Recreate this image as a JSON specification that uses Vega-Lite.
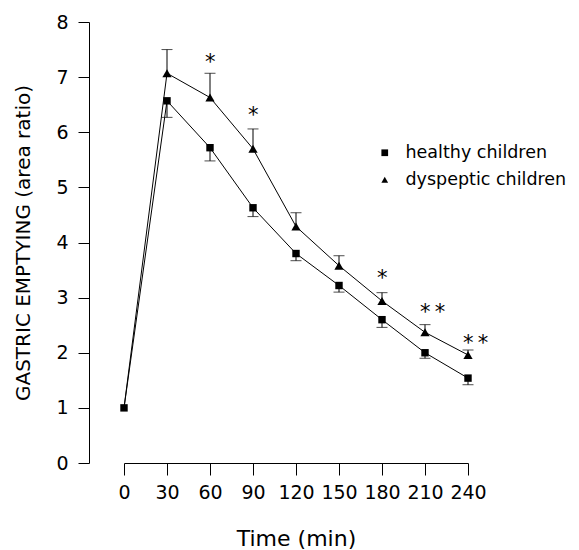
{
  "$schema": "https://vega.github.io/schema/vega-lite/v6.json",
  "autosize": "none",
  "width": 344,
  "height": 441,
  "padding": {"left": 124, "top": 22, "right": 111, "bottom": 87},
  "config": {
    "view": {"stroke": null},
    "font": "DejaVu Sans",
    "axis": {
      "domainColor": "black", "tickColor": "black", "labelColor": "black", "titleColor": "black",
      "grid": false, "labelFont": "DejaVu Sans", "titleFont": "DejaVu Sans",
      "labelFontWeight": "normal", "titleFontWeight": "normal", "domainWidth": 1, "tickWidth": 1
    }
  },
  "datasets": {
    "means": [
      {"group": "healthy children", "time": 0, "mean": 1.0, "err_end": null},
      {"group": "healthy children", "time": 30, "mean": 6.57, "err_end": 6.27},
      {"group": "healthy children", "time": 60, "mean": 5.72, "err_end": 5.48},
      {"group": "healthy children", "time": 90, "mean": 4.63, "err_end": 4.47},
      {"group": "healthy children", "time": 120, "mean": 3.80, "err_end": 3.67},
      {"group": "healthy children", "time": 150, "mean": 3.22, "err_end": 3.10},
      {"group": "healthy children", "time": 180, "mean": 2.60, "err_end": 2.46},
      {"group": "healthy children", "time": 210, "mean": 2.00, "err_end": 1.90},
      {"group": "healthy children", "time": 240, "mean": 1.54, "err_end": 1.42},
      {"group": "dyspeptic children", "time": 0, "mean": 1.0, "err_end": null},
      {"group": "dyspeptic children", "time": 30, "mean": 7.07, "err_end": 7.50},
      {"group": "dyspeptic children", "time": 60, "mean": 6.63, "err_end": 7.07},
      {"group": "dyspeptic children", "time": 90, "mean": 5.70, "err_end": 6.06},
      {"group": "dyspeptic children", "time": 120, "mean": 4.29, "err_end": 4.54},
      {"group": "dyspeptic children", "time": 150, "mean": 3.58, "err_end": 3.76},
      {"group": "dyspeptic children", "time": 180, "mean": 2.94, "err_end": 3.09},
      {"group": "dyspeptic children", "time": 210, "mean": 2.37, "err_end": 2.51},
      {"group": "dyspeptic children", "time": 240, "mean": 1.96, "err_end": 2.05}
    ],
    "signif": [
      {"time": 60, "y": 7.38, "label": "*"},
      {"time": 90, "y": 6.43, "label": "*"},
      {"time": 180, "y": 3.47, "label": "*"},
      {"time": 210, "y": 2.85, "label": "*\u2009*"},
      {"time": 240, "y": 2.28, "label": "*\u2009*"}
    ]
  },
  "layer": [
    {
      "data": {"name": "means"},
      "mark": {"type": "line", "color": "black", "strokeWidth": 1},
      "encoding": {
        "x": {
          "field": "time", "type": "quantitative",
          "scale": {"domain": [0, 240], "nice": false, "zero": false},
          "axis": {
            "values": [0, 30, 60, 90, 120, 150, 180, 210, 240], "format": "d",
            "title": "Time (min)", "titleFontSize": 22, "titlePadding": 26,
            "labelFontSize": 19, "labelPadding": 8, "tickSize": 12, "labelOverlap": false,
            "labelFlush": false
          }
        },
        "y": {
          "field": "mean", "type": "quantitative",
          "scale": {"domain": [0, 8], "nice": false},
          "axis": {
            "values": [0, 1, 2, 3, 4, 5, 6, 7, 8], "format": "d",
            "title": "GASTRIC EMPTYING (area ratio)", "titleFontSize": 20, "titlePadding": 22,
            "labelFontSize": 19, "labelPadding": 10, "tickSize": 11, "offset": 35,
            "labelFlush": false
          }
        },
        "detail": {"field": "group"}
      }
    },
    {
      "data": {"name": "means"},
      "transform": [{"filter": "datum.err_end != null"}],
      "mark": {"type": "rule", "color": "black", "strokeWidth": 1},
      "encoding": {
        "x": {"field": "time", "type": "quantitative"},
        "y": {"field": "mean", "type": "quantitative"},
        "y2": {"field": "err_end"}
      }
    },
    {
      "data": {"name": "means"},
      "transform": [{"filter": "datum.err_end != null"}],
      "mark": {"type": "tick", "orient": "horizontal", "color": "black", "thickness": 1, "size": 11},
      "encoding": {
        "x": {"field": "time", "type": "quantitative"},
        "y": {"field": "err_end", "type": "quantitative"}
      }
    },
    {
      "data": {"name": "means"},
      "transform": [{"filter": "datum.group == 'dyspeptic children' && datum.time > 0"}],
      "mark": {"type": "point", "filled": true, "opacity": 1, "color": "black", "size": 85},
      "encoding": {
        "x": {"field": "time", "type": "quantitative"},
        "y": {"field": "mean", "type": "quantitative"},
        "shape": {
          "field": "group", "type": "nominal",
          "scale": {"domain": ["healthy children", "dyspeptic children"], "range": ["square", "triangle-up"]},
          "legend": {
            "title": null, "orient": "none", "legendX": 252, "legendY": 122,
            "labelFontSize": 17.5, "labelFont": "DejaVu Sans", "labelColor": "black", "labelLimit": 300,
            "symbolSize": 45, "symbolFillColor": "black", "symbolStrokeColor": "black",
            "rowPadding": 8, "labelOffset": 12
          }
        }
      }
    },
    {
      "data": {"name": "means"},
      "transform": [{"filter": "datum.group == 'healthy children'"}],
      "mark": {"type": "point", "filled": true, "opacity": 1, "color": "black", "size": 55},
      "encoding": {
        "x": {"field": "time", "type": "quantitative"},
        "y": {"field": "mean", "type": "quantitative"},
        "shape": {"field": "group", "type": "nominal"}
      }
    },
    {
      "data": {"name": "signif"},
      "mark": {"type": "text", "align": "left", "baseline": "middle", "dx": -5, "dy": 7, "fontSize": 21, "fill": "black", "font": "DejaVu Sans"},
      "encoding": {
        "x": {"field": "time", "type": "quantitative"},
        "y": {"field": "y", "type": "quantitative"},
        "text": {"field": "label"}
      }
    }
  ]
}
